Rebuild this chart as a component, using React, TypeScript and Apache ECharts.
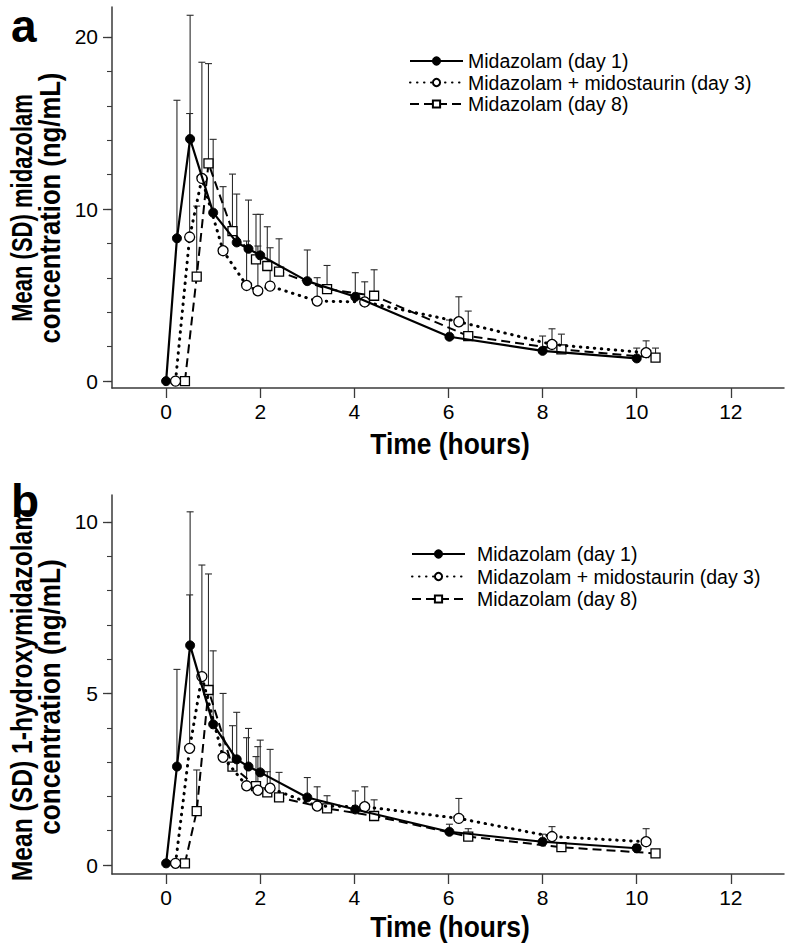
import React, { useEffect, useRef } from "react";
import * as echarts from "echarts";

// Sampling times as plotted (series are staggered horizontally in the figure)
const timeDay1 = [0, 0.23, 0.51, 1.0, 1.5, 1.75, 2.0, 3.0, 4.02, 6.02, 8.0, 10.0];
const timeDay3 = [0.2, 0.5, 0.76, 1.21, 1.71, 1.95, 2.21, 3.21, 4.22, 6.22, 8.2, 10.2];
const timeDay8 = [0.4, 0.65, 0.9, 1.41, 1.91, 2.15, 2.4, 3.42, 4.42, 6.42, 8.4, 10.4];

// Panel a: midazolam (ng/mL), mean and mean+SD
const midDay1 = [0, 8.3, 14.07, 9.79, 8.06, 7.69, 7.31, 5.81, 4.9, 2.58, 1.76, 1.32];
const midDay1Upper = [0, 16.32, 21.26, 14.05, 10.87, 10.52, 9.69, 7.62, 6.3, 3.55, 2.62, 1.92];
const midDay3 = [0, 8.37, 11.78, 7.58, 5.56, 5.25, 5.52, 4.65, 4.6, 3.45, 2.13, 1.65];
const midDay3Upper = [0, 15.55, 18.53, 11.3, 8.14, 7.85, 7.75, 6.01, 5.77, 4.9, 3.04, 2.34];
const midDay8 = [0, 6.07, 12.65, 8.72, 7.07, 6.69, 6.36, 5.35, 4.96, 2.62, 1.84, 1.36];
const midDay8Upper = [0, 10.17, 18.45, 12.03, 9.69, 8.97, 8.27, 6.72, 6.47, 4.07, 2.73, 1.92];

// Panel b: 1-hydroxymidazolam (ng/mL), mean and mean+SD
const hydDay1 = [0.05, 2.87, 6.4, 4.1, 3.08, 2.87, 2.7, 1.97, 1.62, 0.97, 0.68, 0.49];
const hydDay1Upper = [0.05, 5.7, 10.29, 6.24, 4.45, 3.98, 3.64, 2.55, 2.16, 1.19, 0.9, 0.6];
const hydDay3 = [0.05, 3.4, 5.49, 3.14, 2.31, 2.18, 2.24, 1.72, 1.7, 1.36, 0.83, 0.68];
const hydDay3Upper = [0.05, 7.87, 8.74, 5.0, 3.71, 3.45, 3.37, 2.28, 2.28, 1.94, 1.12, 1.06];
const hydDay8 = [0.05, 1.57, 5.1, 2.87, 2.3, 2.12, 1.97, 1.65, 1.43, 0.83, 0.52, 0.34];
const hydDay8Upper = [0.05, 2.77, 8.48, 4.06, 3.16, 2.72, 2.7, 2.02, 1.9, 1.06, 0.65, 0.45];

const seriesNames = ["Midazolam (day 1)", "Midazolam + midostaurin (day 3)", "Midazolam (day 8)"];
const xTicks = [0, 2, 4, 6, 8, 10, 12];
const yTicksA = [0, 10, 20];
const yMinorA = [0, 2, 4, 6, 8, 10, 12, 14, 16, 18, 20];
const yTicksB = [0, 5, 10];
const yMinorB = [0, 1, 2, 3, 4, 5, 6, 7, 8, 9, 10];

const SANS = "'Liberation Sans', Arial, Helvetica, sans-serif";
const AXIS_COLOR = "#3a3a3a";

function zip(xs: number[], ys: number[]) {
  return xs.map((x, i) => [x, ys[i]]);
}
function zip3(xs: number[], ys: number[], us: number[]) {
  return xs.map((x, i) => [x, ys[i], us[i]]);
}

const renderErr = (params: any, api: any) => {
  const x = api.value(0);
  const y = api.value(1);
  const u = api.value(2);
  if (!(u > y)) return { type: "group", children: [] };
  const p0 = api.coord([x, y]);
  const p1 = api.coord([x, u]);
  const st = { stroke: "#2a2a2a", lineWidth: 1.1 };
  return {
    type: "group",
    children: [
      { type: "line", shape: { x1: p0[0], y1: p0[1], x2: p1[0], y2: p1[1] }, style: st },
      { type: "line", shape: { x1: p1[0] - 3.5, y1: p1[1], x2: p1[0] + 3.5, y2: p1[1] }, style: st },
    ],
  };
};

const lineStyles: any[] = [
  { color: "#000", width: 2.2, type: "solid" },
  { color: "#000", width: 3, type: [0.5, 6.5], cap: "round" },
  { color: "#000", width: 2, type: [9, 5] },
];
const symbols = ["circle", "circle", "rect"];
const symbolSizes = [9, 10, 9];
const itemStyles: any[] = [
  { color: "#000", borderColor: "#000", borderWidth: 1 },
  { color: "#fff", borderColor: "#000", borderWidth: 1.3 },
  { color: "#fff", borderColor: "#000", borderWidth: 1.3 },
];

function panelSeries(xi: number, yi: number, vals: number[][], uppers: number[][]) {
  const times = [timeDay1, timeDay3, timeDay8];
  const out: any[] = [];
  for (let k = 0; k < 3; k++) {
    out.push({
      type: "custom",
      name: "err-" + xi + "-" + k,
      xAxisIndex: xi,
      yAxisIndex: yi,
      renderItem: renderErr,
      data: zip3(times[k], vals[k], uppers[k]),
      z: 1,
      silent: true,
    });
  }
  for (let k = 2; k >= 0; k--) {
    out.push({
      type: "line",
      name: seriesNames[k],
      xAxisIndex: xi,
      yAxisIndex: yi,
      data: zip(times[k], vals[k]),
      symbol: symbols[k],
      symbolSize: symbolSizes[k],
      showAllSymbol: true,
      lineStyle: lineStyles[k],
      itemStyle: itemStyles[k],
      z: 3 + (2 - k),
    });
  }
  return out;
}

function xAxisDef(gridIndex: number) {
  return {
    type: "value",
    gridIndex,
    min: -1.15,
    max: 13.13,
    axisLine: { show: true, onZero: false, lineStyle: { color: AXIS_COLOR, width: 1.5 } },
    axisTick: { show: true, customValues: xTicks, length: 10, lineStyle: { color: AXIS_COLOR, width: 1.3 } },
    axisLabel: { show: true, customValues: xTicks, fontSize: 21, margin: 13, color: "#000", fontFamily: SANS },
    splitLine: { show: false },
  };
}

function yAxisDefs(gridIndex: number, min: number, max: number, major: number[], minor: number[]) {
  return [
    {
      type: "value",
      gridIndex,
      position: "left",
      min,
      max,
      axisLine: { show: true, onZero: false, lineStyle: { color: AXIS_COLOR, width: 1.5 } },
      axisTick: { show: true, customValues: major, length: 9, lineStyle: { color: AXIS_COLOR, width: 1.3 } },
      axisLabel: { show: true, customValues: major, fontSize: 21, margin: 14, color: "#000", fontFamily: SANS },
      splitLine: { show: false },
    },
    {
      type: "value",
      gridIndex,
      position: "left",
      min,
      max,
      axisLine: { show: false, onZero: false },
      axisTick: { show: true, customValues: minor, length: 5, lineStyle: { color: AXIS_COLOR, width: 1.1 } },
      axisLabel: { show: false },
      splitLine: { show: false },
    },
  ];
}

function titleText(text: string, x: number, y: number, rotated: boolean, size: number, squeeze: number) {
  return {
    type: "text",
    x,
    y,
    rotation: rotated ? Math.PI / 2 : 0,
    scaleX: squeeze,
    style: {
      text,
      font: "bold " + size + "px " + SANS,
      fill: "#000",
      textAlign: "center",
      textVerticalAlign: "middle",
    },
  };
}

export default function App() {
  const ref = useRef<HTMLDivElement>(null);
  useEffect(() => {
    if (!ref.current) return;
    const chart = echarts.init(ref.current, null, { renderer: "svg" });
    const legendBase = {
      orient: "vertical",
      data: seriesNames,
      itemWidth: 53,
      itemHeight: 9,
      selectedMode: false,
      textStyle: { fontSize: 19.5, color: "#000", fontFamily: SANS },
    };
    const option: any = {
      animation: false,
      backgroundColor: "#fff",
      grid: [
        { left: 112, top: 7, width: 672, height: 381 },
        { left: 112, top: 495, width: 672, height: 379 },
      ],
      xAxis: [xAxisDef(0), xAxisDef(1)],
      yAxis: [
        ...yAxisDefs(0, -0.4, 21.74, yTicksA, yMinorA),
        ...yAxisDefs(1, -0.26, 10.78, yTicksB, yMinorB),
      ],
      legend: [
        { ...legendBase, left: 404, top: 46, itemGap: 1.5 },
        { ...legendBase, left: 406, top: 539, itemGap: 2.5, textStyle: { ...legendBase.textStyle, padding: [0, 0, 0, 7] } },
      ],
      series: [
        ...panelSeries(0, 0, [midDay1, midDay3, midDay8], [midDay1Upper, midDay3Upper, midDay8Upper]),
        ...panelSeries(1, 2, [hydDay1, hydDay3, hydDay8], [hydDay1Upper, hydDay3Upper, hydDay8Upper]),
      ],
      graphic: [
        { type: "text", x: 11, y: 26, style: { text: "a", font: "900 46px " + SANS, fill: "#000", textVerticalAlign: "middle" } },
        { type: "text", x: 11, y: 501, style: { text: "b", font: "900 46px " + SANS, fill: "#000", textVerticalAlign: "middle" } },
        titleText("Mean (SD) midazolam", 22, 208, true, 29, 0.76),
        titleText("concentration (ng/mL)", 50, 208, true, 29, 0.885),
        titleText("Mean (SD) 1-hydroxymidazolam", 22, 695, true, 29, 0.85),
        titleText("concentration (ng/mL)", 50, 697, true, 29, 0.9),
        titleText("Time (hours)", 450, 443, false, 30, 0.88),
        titleText("Time (hours)", 450, 926, false, 30, 0.88),
      ],
    };
    chart.setOption(option);
    return () => chart.dispose();
  }, []);
  return (
    <div
      ref={ref}
      style={{ position: "fixed", left: 0, top: 0, width: 786, height: 948, background: "#fff" }}
    />
  );
}
